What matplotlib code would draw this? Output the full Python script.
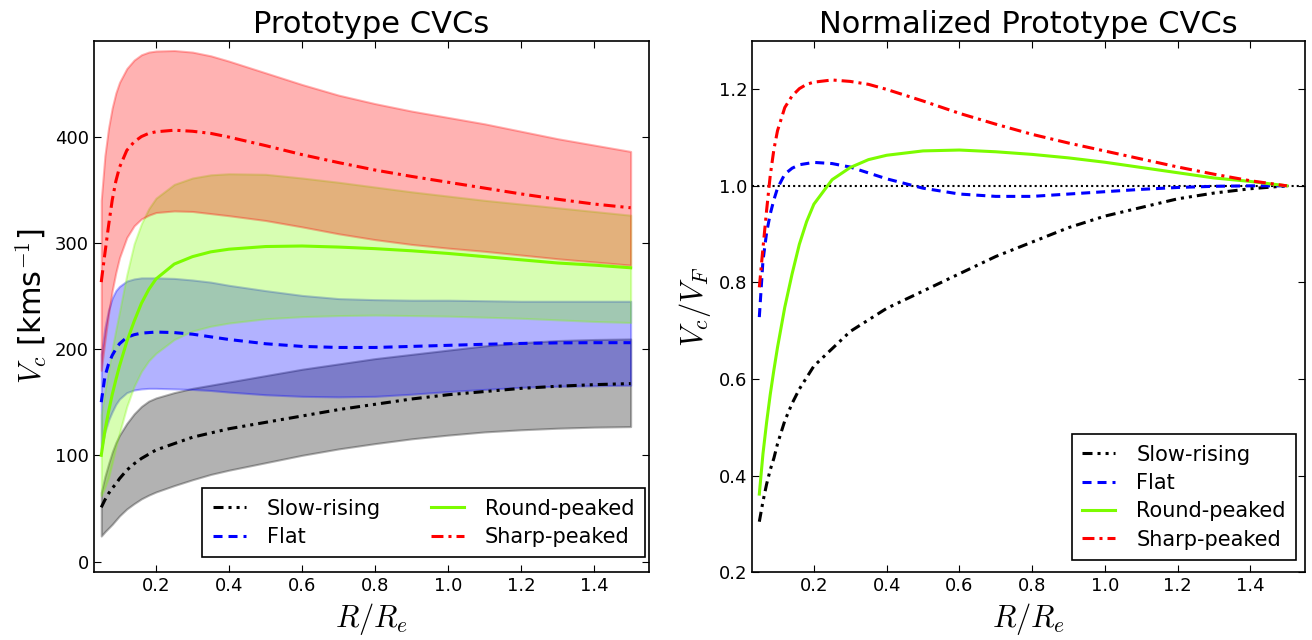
import numpy as np
import matplotlib
matplotlib.use("Agg")
import matplotlib.pyplot as plt

plt.rcParams.update({
    "font.family": ["DejaVu Sans"],
    "mathtext.fontset": "cm",
    "xtick.direction": "in",
    "ytick.direction": "in",
    "xtick.top": True,
    "ytick.right": True,
    "xtick.major.size": 5,
    "ytick.major.size": 5,
    "xtick.labelsize": 13,
    "ytick.labelsize": 13,
    "axes.linewidth": 1.2,
    "lines.scale_dashes": False,
})

# Radius in units of the effective radius
R = np.array([0.05, 0.06, 0.07, 0.08, 0.09, 0.10, 0.12, 0.14, 0.16, 0.18, 0.20,
              0.25, 0.30, 0.35, 0.40, 0.50, 0.60, 0.70, 0.80, 0.90, 1.00,
              1.10, 1.20, 1.30, 1.40, 1.50])

# Slow-rising prototype (km/s): median and spread
slow_mid = np.array([51, 58, 64, 69, 73, 78, 86, 92, 97, 101, 105,
                     111, 117, 121, 125, 131, 137, 143, 148, 153, 157,
                     160, 163, 165, 166.5, 167.5])
slow_lo = np.array([24, 28, 31.5, 35, 39, 43, 49.5, 54.5, 59, 62.5, 65.5,
                    71.5, 77, 82, 86, 93, 100, 106, 111, 115.5, 119,
                    122, 124, 125.5, 126.5, 127])
slow_hi = np.array([65, 80, 92, 103, 112, 119, 130, 139, 146, 151, 154,
                    159, 163, 166, 169, 175, 181, 186, 191, 195, 199,
                    203, 206, 208, 209, 209.5])

# Flat prototype
flat_mid = np.array([150, 174, 186, 194, 200, 205, 211, 213.5, 215, 215.5, 216,
                     215.5, 214, 211.5, 209, 205, 202.5, 201.5, 201.5, 202.5, 203.5,
                     204.5, 205.3, 205.8, 206, 206])
flat_lo = np.array([105, 122, 133, 141, 148, 153, 159, 161.5, 162.5, 163, 163,
                    162.5, 162, 161, 159.5, 157, 155.5, 155, 155.5, 157.5, 160,
                    162, 164, 165, 165.5, 166])
flat_hi = np.array([195, 220, 237, 248, 255, 259, 264, 266, 267, 267, 267,
                    266.5, 265, 263, 260, 255, 250.5, 247.5, 246.5, 246, 246,
                    245.5, 245, 245, 245, 245])

# Round-peaked prototype
round_mid = np.array([100, 123, 141, 157, 171, 184, 207, 226, 243, 256, 266,
                      280, 287, 291.5, 294, 296.5, 297, 296, 294.5, 292.5, 290,
                      287, 284, 281, 279, 276.5])
round_lo = np.array([62, 70, 79, 93, 108, 121, 146, 165, 179, 189, 196,
                     209, 217, 221.5, 224.5, 228.5, 230.5, 231.5, 232, 231.5, 231,
                     230, 229, 227.5, 226, 225])
round_hi = np.array([138, 160, 180, 200, 218, 235, 270, 299, 318, 332, 342,
                     355, 361, 364, 365, 364.5, 361, 357, 352.5, 348, 344,
                     340, 336.5, 333, 329.5, 326])

# Sharp-peaked prototype
sharp_mid = np.array([263, 290, 316, 340, 358, 371, 387, 395, 400, 403, 404.5,
                      406, 405, 403, 399.5, 391.5, 383, 375.5, 368.5, 362.5, 357,
                      351.5, 346, 341, 336.5, 333])
sharp_lo = np.array([180, 208, 233, 255, 272, 286, 305, 316, 322.5, 326, 328.5,
                     330, 329.5, 327.5, 325.5, 321, 315, 308.5, 303, 298.5, 295,
                     292, 288.5, 285, 282, 279])
sharp_hi = np.array([340, 382, 408, 427, 441, 451, 464, 472, 477, 479.5, 480.5,
                     481, 479.5, 476, 471, 460, 449, 439, 431, 424, 418,
                     412, 405, 398, 392, 386])

labels = ["Slow-rising", "Flat", "Round-peaked", "Sharp-peaked"]
colors = ["k", "b", "lawngreen", "r"]
dashes = [(0, (7.2, 3.6, 2.2, 3.6, 2.2, 3.6)),
          (0, (6.5, 4.3)),
          "-",
          (0, (8.6, 3.6, 2.2, 3.6))]

mids = [slow_mid, flat_mid, round_mid, sharp_mid]
los = [slow_lo, flat_lo, round_lo, sharp_lo]
his = [slow_hi, flat_hi, round_hi, sharp_hi]

fig = plt.figure(figsize=(13.12, 6.4), dpi=100)
ax1 = fig.add_axes([0.0716, 0.106, 0.423, 0.830])
ax2 = fig.add_axes([0.5732, 0.106, 0.4215, 0.830])

lw = 2.2
for lo, hi, c in zip(los, his, colors):
    ax1.fill_between(R, lo, hi, color=c, alpha=0.3, linewidth=1.5, zorder=1)
for mid, c, ls, lab in zip(mids, colors, dashes, labels):
    ax1.plot(R, mid, color=c, linestyle=ls, linewidth=lw, label=lab, zorder=3)

legend_kw = dict(fontsize=15, borderaxespad=0, fancybox=False, framealpha=1,
                 edgecolor="k", handlelength=1.6, handletextpad=1.0,
                 labelspacing=0.4, borderpad=0.5)

ax1.set_xlim(0.03, 1.55)
ax1.set_ylim(-10, 490)
ax1.set_xticks([0.2, 0.4, 0.6, 0.8, 1.0, 1.2, 1.4])
ax1.set_yticks([0, 100, 200, 300, 400])
ax1.set_title("Prototype CVCs", fontsize=22)
ax1.set_xlabel("$R/R_e$", fontsize=22)
ax1.set_ylabel("$V_c$ [kms$^{-1}$]", fontsize=22)
leg1 = ax1.legend(loc="lower right", bbox_to_anchor=(0.993, 0.028), ncol=2,
                  columnspacing=2.4, **legend_kw)
leg1.get_frame().set_linewidth(1.2)

ax2.axhline(1.0, color="k", linestyle=(0, (1.5, 2.2)), linewidth=1.5, zorder=1)
for mid, c, ls, lab in zip(mids, colors, dashes, labels):
    ax2.plot(R, mid / mid[-1], color=c, linestyle=ls, linewidth=lw, label=lab, zorder=3)

ax2.set_xlim(0.03, 1.55)
ax2.set_ylim(0.2, 1.3)
ax2.set_xticks([0.2, 0.4, 0.6, 0.8, 1.0, 1.2, 1.4])
ax2.set_yticks([0.2, 0.4, 0.6, 0.8, 1.0, 1.2])
ax2.set_title("Normalized Prototype CVCs", fontsize=22)
ax2.set_xlabel("$R/R_e$", fontsize=22)
ax2.set_ylabel("$V_c/V_F$", fontsize=22)
leg2 = ax2.legend(loc="lower right", bbox_to_anchor=(0.984, 0.023), **legend_kw)
leg2.get_frame().set_linewidth(1.2)

fig.savefig("out.png", dpi=100)
